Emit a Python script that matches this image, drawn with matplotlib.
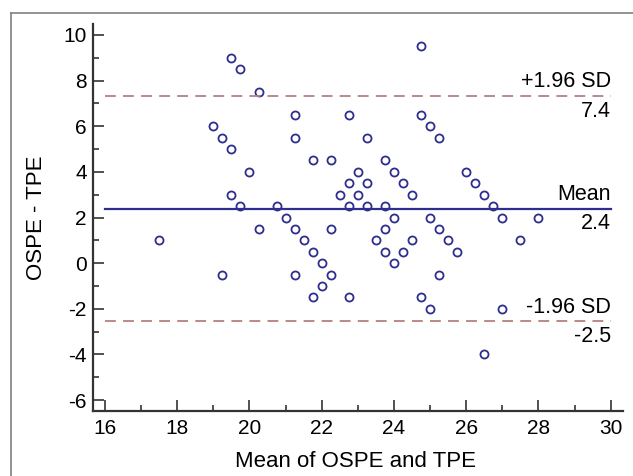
import matplotlib
matplotlib.use("Agg")
import matplotlib.pyplot as plt
from matplotlib.lines import Line2D
from matplotlib.ticker import MultipleLocator

plt.rcParams['font.family'] = ['Liberation Sans', 'DejaVu Sans']
plt.rcParams['axes.unicode_minus'] = False

# mean of the two scores (x) and their difference (y)
mean_scores = [17.5, 19, 19.25, 19.25, 19.5, 19.5, 19.5, 19.75, 19.75, 20,
               20.25, 20.25, 20.75, 21, 21.25, 21.25, 21.25, 21.25, 21.5, 21.75,
               21.75, 21.75, 22, 22, 22.25, 22.25, 22.25, 22.5, 22.75, 22.75,
               22.75, 22.75, 23, 23, 23.25, 23.25, 23.25, 23.5, 23.75, 23.75,
               23.75, 23.75, 24, 24, 24, 24.25, 24.25, 24.5, 24.5, 24.75,
               24.75, 24.75, 25, 25, 25, 25.25, 25.25, 25.25, 25.5, 25.75,
               26, 26.25, 26.5, 26.5, 26.75, 27, 27, 27.5, 28]
differences = [1, 6, 5.5, -0.5, 9, 5, 3, 8.5, 2.5, 4,
               7.5, 1.5, 2.5, 2, 6.5, 5.5, 1.5, -0.5, 1, 4.5,
               0.5, -1.5, 0, -1, 4.5, 1.5, -0.5, 3, 6.5, 3.5,
               2.5, -1.5, 4, 3, 5.5, 3.5, 2.5, 1, 4.5, 2.5,
               1.5, 0.5, 4, 2, 0, 3.5, 0.5, 3, 1, 9.5,
               6.5, -1.5, 6, 2, -2, 5.5, 1.5, -0.5, 1, 0.5,
               4, 3.5, 3, -4, 2.5, 2, -2, 1, 2]

mean_diff = 2.39
upper_loa = 7.33
lower_loa = -2.55
line_names = ["+1.96 SD", "Mean", "-1.96 SD"]
line_values = [upper_loa, mean_diff, lower_loa]
line_labels = ["7.4", "2.4", "-2.5"]

fig = plt.figure(figsize=(6.33, 4.76), dpi=100)
ax = fig.add_axes([93/633, 1 - 411/476, (623 - 93)/633, (411 - 24)/476])

navy = "#2e2e8e"
loa_col = "#b48080"

ax.plot(mean_scores, differences, linestyle="none", marker="o", markersize=5.8,
        markerfacecolor="none", markeredgecolor=navy, markeredgewidth=1.3)

for name, val, lab in zip(line_names, line_values, line_labels):
    if name == "Mean":
        ax.plot([16, 30], [val, val], color=navy, lw=1.6)
    else:
        ax.plot([16, 30], [val, val], color=loa_col, lw=1.3, dashes=(6, 4))
    ax.annotate(name, (30, val), xytext=(0, 2.5), textcoords="offset points",
                ha="right", va="bottom", fontsize=15.5)
    ax.annotate(lab, (30, val), xytext=(0, -3.5), textcoords="offset points",
                ha="right", va="top", fontsize=15.5)

ax.set_xlim(15.668, 30.34)
ax.set_ylim(-6.48, 10.48)
ax.set_xticks([16, 18, 20, 22, 24, 26, 28, 30])
ax.set_yticks([-6, -4, -2, 0, 2, 4, 6, 8, 10])
ax.xaxis.set_minor_locator(MultipleLocator(1))
ax.yaxis.set_minor_locator(MultipleLocator(1))
ax.tick_params(which="major", direction="in", length=8, width=1.2,
               color="#333333", labelsize=15)
ax.tick_params(axis="x", which="major", pad=6)
ax.tick_params(axis="y", which="major", pad=4.5)
ax.tick_params(which="minor", direction="in", length=4, width=1.2, color="#333333")

for side in ["top", "right"]:
    ax.spines[side].set_visible(False)
for side in ["left", "bottom"]:
    ax.spines[side].set_linewidth(1.6)
    ax.spines[side].set_color("#333333")

ax.set_xlabel("Mean of OSPE and TPE", fontsize=16)
ax.set_ylabel("OSPE - TPE", fontsize=16)
ax.xaxis.set_label_coords(0.496, -0.103)
ax.yaxis.set_label_coords(-0.087, 0.5)

# grey frame around the figure (only top and left are in view)
fig.add_artist(Line2D([11/633, 11/633], [0, 1 - 13/476], color="#808080", lw=1.2))
fig.add_artist(Line2D([11/633, 1], [1 - 13/476, 1 - 13/476], color="#808080", lw=1.2))

fig.savefig("out.png", dpi=100)
